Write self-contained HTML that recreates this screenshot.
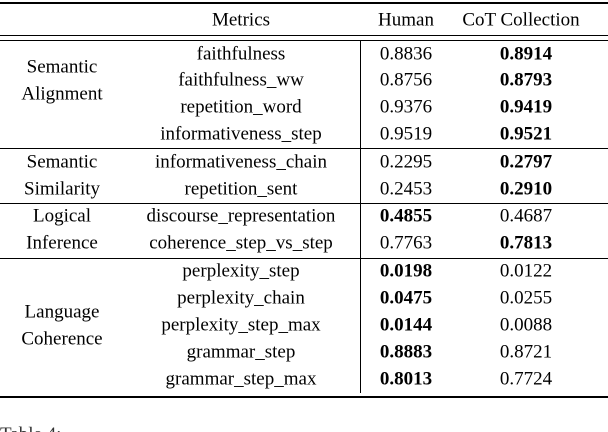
<!DOCTYPE html>
<html><head><meta charset="utf-8"><style>
html,body{margin:0;width:608px;height:432px;overflow:hidden}
body{background:#fff;position:relative;font-family:"Liberation Serif",serif;font-size:19px;color:#000}
.t{position:absolute;white-space:nowrap;transform:translate(-50%,-50%);line-height:1}
.h{position:absolute;left:0;width:608px;background:#000}
.b{font-weight:bold}
</style></head><body>
<div class="h" style="top:2px;height:2px"></div>
<div class="h" style="top:35px;height:1.2px"></div>
<div class="h" style="top:39.5px;height:1.2px"></div>
<div class="h" style="top:148px;height:1.2px"></div>
<div class="h" style="top:203px;height:1.2px"></div>
<div class="h" style="top:258px;height:1.2px"></div>
<div class="h" style="top:396px;height:2px"></div>
<div style="position:absolute;left:360px;top:40px;width:1.2px;height:353px;background:#000"></div>
<div class="t" style="left:241px;top:20px">Metrics</div>
<div class="t" style="left:406px;top:20px">Human</div>
<div class="t" style="left:521px;top:20px">CoT Collection</div>
<div class="t" style="left:0;top:425px;transform:none;color:#333">Table 4:</div>
<script>
const metrics=["faithfulness","faithfulness_ww","repetition_word","informativeness_step","informativeness_chain","repetition_sent","discourse_representation","coherence_step_vs_step","perplexity_step","perplexity_chain","perplexity_step_max","grammar_step","grammar_step_max"];
const human=["0.8836","0.8756","0.9376","0.9519","0.2295","0.2453","0.4855","0.7763","0.0198","0.0475","0.0144","0.8883","0.8013"];
const cot=["0.8914","0.8793","0.9419","0.9521","0.2797","0.2910","0.4687","0.7813","0.0122","0.0255","0.0088","0.8721","0.7724"];
const groups=[["Semantic","Alignment"],["Semantic","Similarity"],["Logical","Inference"],["Language","Coherence"]];
const groupY=[[67,94],[162,189],[216,243],[312,339]];
const rowY=[54,80,107,134,162,189,216,243,271,298,325,352,379];
function add(txt,x,y,bold,name){const d=document.createElement('div');d.className='t'+(bold?' b':'');d.textContent=txt;d.style.left=x+'px';d.style.top=y+'px';


document.body.appendChild(d);}
metrics.forEach((m,i)=>{const hb=parseFloat(human[i])>parseFloat(cot[i]);
add(m,241,rowY[i],false,'metric-'+m);
add(human[i],406,rowY[i],hb,'human-'+m);
add(cot[i],526,rowY[i],!hb,'cot-'+m);});
groups.forEach((g,i)=>g.forEach((w,j)=>add(w,62,groupY[i][j],false,'group-label')));
</script>
</body></html>
